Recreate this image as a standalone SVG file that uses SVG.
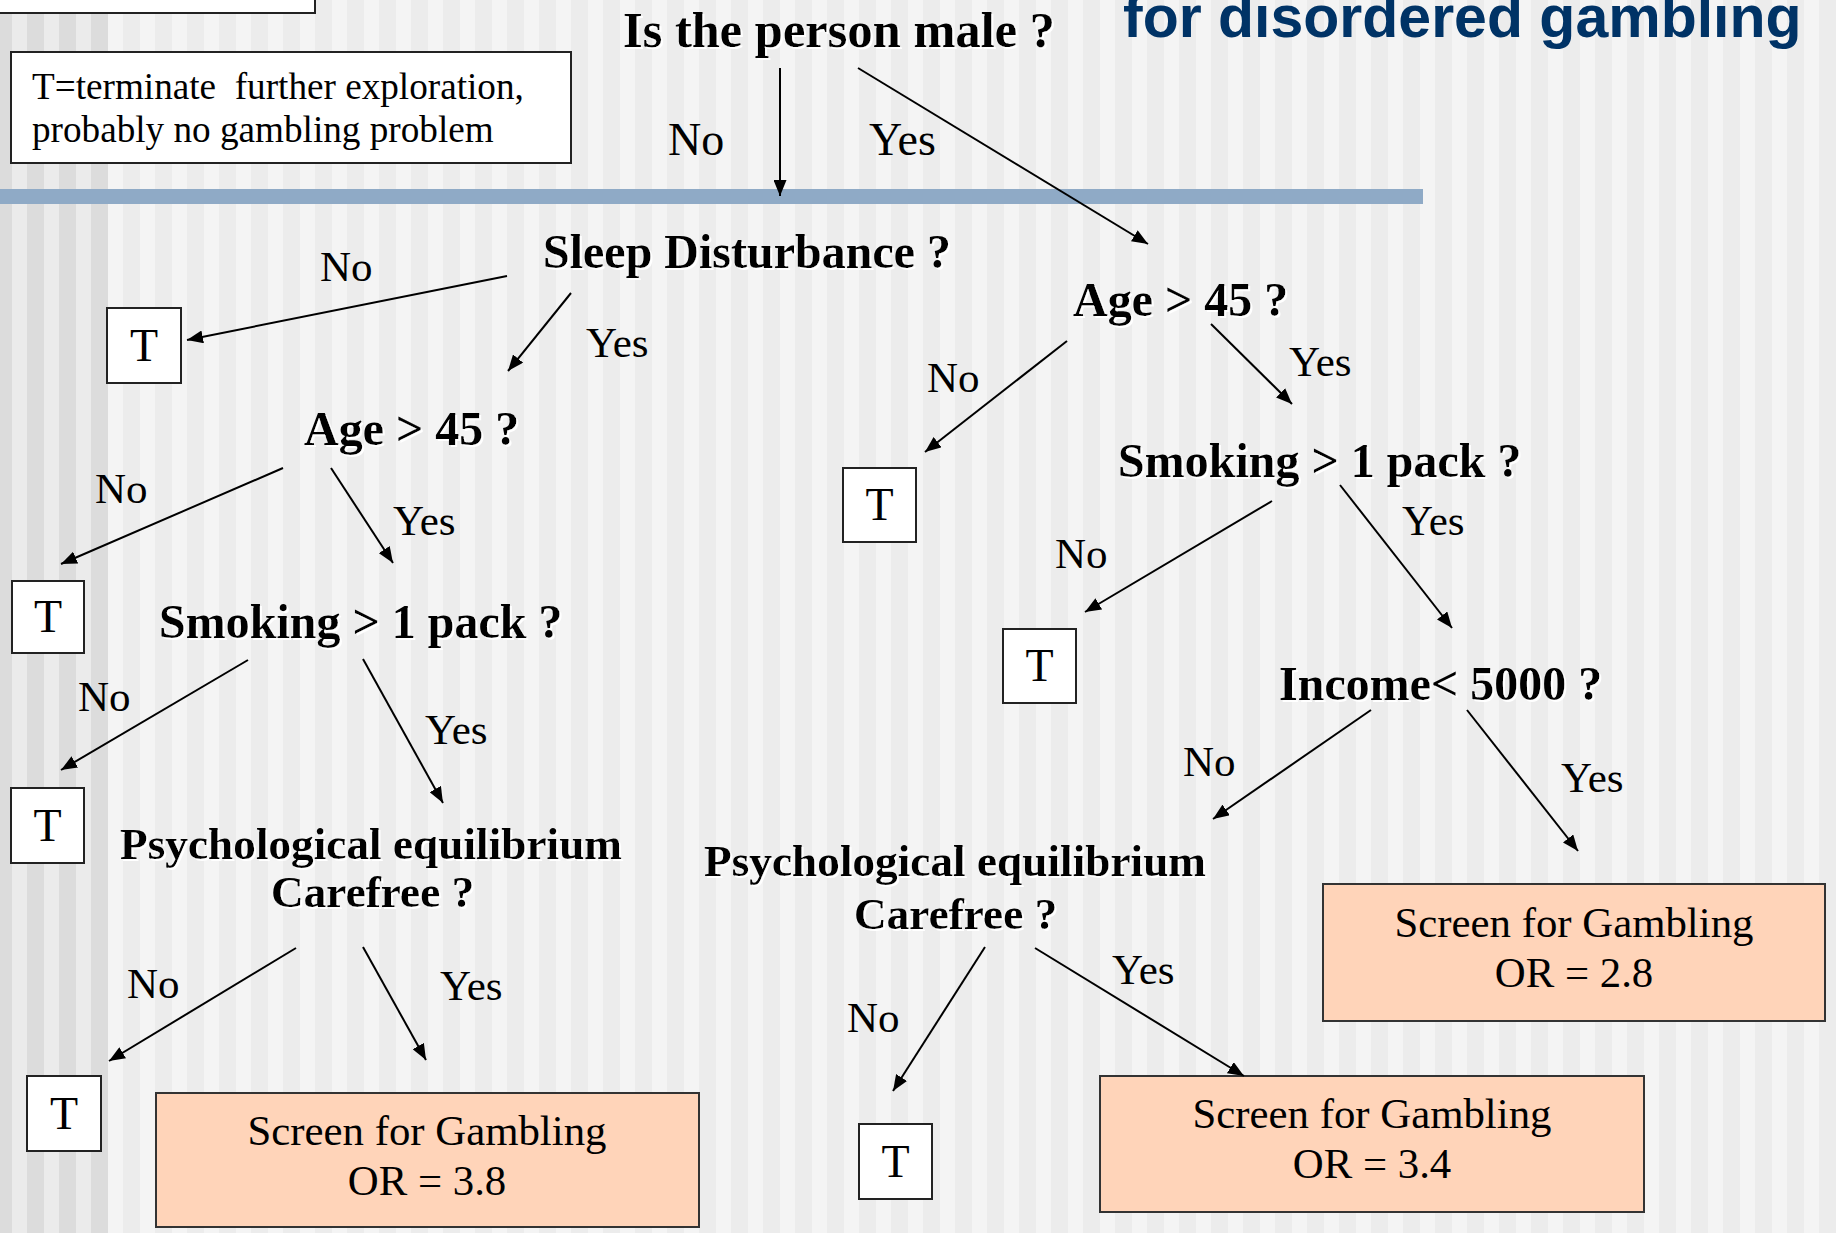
<svg xmlns="http://www.w3.org/2000/svg" width="1836" height="1233" viewBox="0 0 1836 1233">
<defs>
<pattern id="bgR" x="27" y="0" width="32" height="16" patternUnits="userSpaceOnUse">
<rect x="0" y="0" width="32" height="16" fill="#f4f4f4"/>
<rect x="0" y="0" width="17" height="16" fill="#ececec"/>
</pattern>
<pattern id="bgL" x="27" y="0" width="32" height="16" patternUnits="userSpaceOnUse">
<rect x="0" y="0" width="32" height="16" fill="#ebebeb"/>
<rect x="0" y="0" width="17" height="16" fill="#dcdcdc"/>
</pattern>
<marker id="ah" viewBox="0 0 16 13" refX="16" refY="6.5" markerWidth="16" markerHeight="13" markerUnits="userSpaceOnUse" orient="auto">
<path d="M0,0 L16,6.5 L0,13 z" fill="#000"/>
</marker>
<filter id="sh" x="-5%" y="-20%" width="110%" height="140%">
<feFlood flood-color="#ffffff" result="f"/>
<feComposite in="f" in2="SourceAlpha" operator="in" result="w"/>
<feOffset in="w" dx="2" dy="2" result="o"/>
<feMerge><feMergeNode in="o"/><feMergeNode in="SourceGraphic"/></feMerge>
</filter>
</defs>
<style>
.q{font-family:"Liberation Serif","Times New Roman",serif;font-weight:bold;font-size:48px;fill:#000;filter:url(#sh)}
.qp{font-size:45.3px}
.lb{font-family:"Liberation Serif","Times New Roman",serif;font-size:43px;fill:#000}
.lt{font-family:"Liberation Serif","Times New Roman",serif;font-size:46px;fill:#000}
.tt{font-family:"Liberation Serif","Times New Roman",serif;font-size:46px;fill:#000;text-anchor:middle}
.sc{font-family:"Liberation Serif","Times New Roman",serif;font-size:42.8px;fill:#000;text-anchor:middle}
.lg{font-family:"Liberation Serif","Times New Roman",serif;font-size:37.2px;fill:#000}
.tb{fill:#fff;stroke:#222;stroke-width:2}
.ob{fill:#ffd4b9;stroke:#333;stroke-width:2}
.cn line{stroke:#000;stroke-width:2;marker-end:url(#ah)}
</style>

<rect x="0" y="0" width="1836" height="1233" fill="url(#bgR)"/>
<rect x="0" y="0" width="108" height="1233" fill="url(#bgL)"/>

<rect x="0" y="189" width="1423" height="15" fill="#8faac6"/>

<g id="topbox"><rect x="-2" y="-60" width="317" height="73" class="tb"/></g>

<g id="title"><text x="1123" y="37" style="font-family:'Liberation Sans',Arial,sans-serif;font-weight:bold;font-size:59px;fill:#003366">for disordered gambling</text></g>

<g id="legend">
<rect x="11" y="52" width="560" height="111" class="tb"/>
<text class="lg" x="32" y="99" xml:space="preserve">T=terminate  further exploration,</text>
<text class="lg" x="32" y="142">probably no gambling problem</text>
</g>

<g id="q-male"><text class="q" x="623" y="47" style="font-size:50.5px">Is the person male ?</text></g>
<g id="q-sleep"><text class="q" x="543" y="268">Sleep Disturbance ?</text></g>
<g id="q-age-l"><text class="q" x="304" y="445">Age &gt; 45 ?</text></g>
<g id="q-age-r"><text class="q" x="1073" y="316">Age &gt; 45 ?</text></g>
<g id="q-smoke-l"><text class="q" x="159" y="638">Smoking &gt; 1 pack ?</text></g>
<g id="q-smoke-r"><text class="q" x="1118" y="477">Smoking &gt; 1 pack ?</text></g>
<g id="q-income"><text class="q" x="1279" y="700">Income&lt; 5000 ?</text></g>
<g id="q-psych-l"><text class="q qp" x="120" y="859">Psychological equilibrium</text><text class="q qp" x="271" y="907">Carefree ?</text></g>
<g id="q-psych-r"><text class="q qp" x="704" y="876">Psychological equilibrium</text><text class="q qp" x="854" y="929">Carefree ?</text></g>

<g id="t1"><rect x="107" y="308" width="74" height="75" class="tb"/><text class="tt" x="144" y="361">T</text></g>
<g id="t2"><rect x="12" y="581" width="72" height="72" class="tb"/><text class="tt" x="48" y="632">T</text></g>
<g id="t3"><rect x="11" y="788" width="73" height="75" class="tb"/><text class="tt" x="47.5" y="841">T</text></g>
<g id="t4"><rect x="27" y="1076" width="74" height="75" class="tb"/><text class="tt" x="64" y="1129">T</text></g>
<g id="t5"><rect x="843" y="468" width="73" height="74" class="tb"/><text class="tt" x="879.5" y="520">T</text></g>
<g id="t6"><rect x="1003" y="629" width="73" height="74" class="tb"/><text class="tt" x="1039.5" y="681">T</text></g>
<g id="t7"><rect x="859" y="1124" width="73" height="75" class="tb"/><text class="tt" x="895.5" y="1177">T</text></g>

<g id="or38"><rect x="156" y="1093" width="543" height="134" class="ob"/><text class="sc" x="427" y="1145">Screen for Gambling</text><text class="sc" x="427" y="1195">OR = 3.8</text></g>
<g id="or28"><rect x="1323" y="884" width="502" height="137" class="ob"/><text class="sc" x="1574" y="937">Screen for Gambling</text><text class="sc" x="1574" y="987">OR = 2.8</text></g>
<g id="or34"><rect x="1100" y="1076" width="544" height="136" class="ob"/><text class="sc" x="1372" y="1128">Screen for Gambling</text><text class="sc" x="1372" y="1178">OR = 3.4</text></g>

<g id="connectors" class="cn">
<line x1="780" y1="68" x2="780" y2="196"/>
<line x1="858" y1="68" x2="1148" y2="244"/>
<line x1="507" y1="276" x2="187" y2="340"/>
<line x1="571" y1="293" x2="508" y2="371"/>
<line x1="283" y1="468" x2="61" y2="564"/>
<line x1="331" y1="468" x2="393" y2="563"/>
<line x1="248" y1="660" x2="61" y2="770"/>
<line x1="363" y1="659" x2="443" y2="803"/>
<line x1="296" y1="948" x2="109" y2="1061"/>
<line x1="363" y1="947" x2="426" y2="1060"/>
<line x1="1067" y1="341" x2="925" y2="452"/>
<line x1="1211" y1="324" x2="1292" y2="404"/>
<line x1="1272" y1="501" x2="1085" y2="612"/>
<line x1="1340" y1="485" x2="1452" y2="628"/>
<line x1="1371" y1="710" x2="1213" y2="819"/>
<line x1="1467" y1="710" x2="1578" y2="851"/>
<line x1="985" y1="947" x2="893" y2="1091"/>
<line x1="1035" y1="948" x2="1244" y2="1076"/>
</g>

<g id="labels">
<text class="lt" x="668" y="155">No</text>
<text class="lt" x="869" y="155">Yes</text>
<text class="lb" x="320" y="281">No</text>
<text class="lb" x="586" y="357">Yes</text>
<text class="lb" x="95" y="503">No</text>
<text class="lb" x="393" y="535">Yes</text>
<text class="lb" x="78" y="711">No</text>
<text class="lb" x="425" y="744">Yes</text>
<text class="lb" x="127" y="998">No</text>
<text class="lb" x="440" y="1000">Yes</text>
<text class="lb" x="927" y="392">No</text>
<text class="lb" x="1289" y="376">Yes</text>
<text class="lb" x="1055" y="568">No</text>
<text class="lb" x="1402" y="535">Yes</text>
<text class="lb" x="1183" y="776">No</text>
<text class="lb" x="1561" y="792">Yes</text>
<text class="lb" x="847" y="1032">No</text>
<text class="lb" x="1112" y="984">Yes</text>
</g>
</svg>
